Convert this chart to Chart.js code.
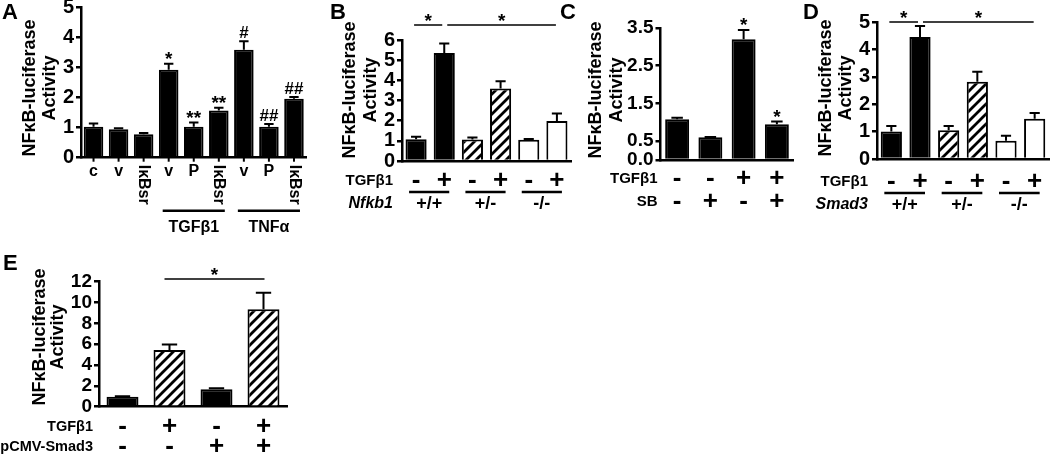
<!DOCTYPE html>
<html>
<head>
<meta charset="utf-8">
<script src="https://cdn.jsdelivr.net/npm/chart.js@4.4.1/dist/chart.umd.min.js"></script>
<style>
  body { margin: 0; background: #fff; width: 1050px; height: 454px; position: relative; overflow: hidden; }
  canvas { position: absolute; }
</style>
</head>
<body>
<canvas id="ca"></canvas>
<canvas id="cb"></canvas>
<canvas id="cc"></canvas>
<canvas id="cd"></canvas>
<canvas id="ce"></canvas>
<script>
// ---- data ----
const yTitle = ['NFκB-luciferase', 'Activity'];

const aLabels = ['c', 'v', 'IκBsr', 'v', 'P', 'IκBsr', 'v', 'P', 'IκBsr'];
const aMeans = [1.03, 0.95, 0.78, 2.93, 1.03, 1.57, 3.59, 1.03, 1.96];
const aSem = [0.11, 0.03, 0.04, 0.20, 0.14, 0.09, 0.29, 0.09, 0.06];
const aMarks = ['', '', '', '*', '**', '**', '#', '##', '##'];
const aGroups = ['TGFβ1', 'TNFα'];
const aTicks = [0, 1, 2, 3, 4, 5];

const bMeans = [1.08, 5.36, 1.07, 3.60, 1.05, 1.98];
const bSem = [0.12, 0.47, 0.10, 0.36, 0.04, 0.38];
const bTgf = ['-', '+', '-', '+', '-', '+'];
const bGeno = ['+/+', '+/-', '-/-'];
const bTicks = [0, 1, 2, 3, 4, 5, 6];

const cMeans = [1.08, 0.60, 3.20, 0.95];
const cSem = [0.04, 0.01, 0.25, 0.07];
const cMarks = ['', '', '*', '*'];
const cTgf = ['-', '-', '+', '+'];
const cSb = ['-', '+', '-', '+'];
const cTicks = [0, 0.5, 1.5, 2.5, 3.5];

const dMeans = [1.00, 4.45, 1.05, 2.82, 0.67, 1.47];
const dSem = [0.20, 0.40, 0.15, 0.36, 0.18, 0.21];
const dTgf = ['-', '+', '-', '+', '-', '+'];
const dGeno = ['+/+', '+/-', '-/-'];
const dTicks = [0, 1, 2, 3, 4, 5];

const eMeans = [0.96, 5.44, 1.67, 9.35];
const eSem = [0.04, 0.54, 0.10, 1.60];
const eTgf = ['-', '+', '-', '+'];
const eSmad = ['-', '-', '+', '+'];
const eTicks = [0, 2, 4, 6, 8, 10, 12];

// ---- drawing helpers ----
const FONT = '"Liberation Sans", Arial, sans-serif';

function txt(ctx, s, x, y, size, align = 'center', style = 'bold', base = 'middle', rot = 0) {
  ctx.save();
  ctx.font = style + ' ' + size + 'px ' + FONT;
  ctx.fillStyle = '#000';
  ctx.textAlign = align;
  ctx.textBaseline = base;
  ctx.translate(x, y);
  if (rot) ctx.rotate(rot);
  ctx.fillText(s, 0, 0);
  ctx.restore();
}

function seg(ctx, x1, y1, x2, y2, w) {
  ctx.save();
  ctx.strokeStyle = '#000';
  ctx.lineWidth = w;
  ctx.beginPath();
  ctx.moveTo(x1, y1);
  ctx.lineTo(x2, y2);
  ctx.stroke();
  ctx.restore();
}

function mark(ctx, s, x, yTop) {
  // stars sit high in the em box, hashes sit on the baseline
  if (s.includes('*')) txt(ctx, s, x, yTop + 1, 19, 'center', 'bold', 'alphabetic');
  else txt(ctx, s, x, yTop - 3, 17, 'center', 'bold', 'alphabetic');
}

function hatch(ctx) {
  const p = document.createElement('canvas');
  p.width = 10; p.height = 10;
  const g = p.getContext('2d');
  g.fillStyle = '#fff';
  g.fillRect(0, 0, 10, 10);
  g.strokeStyle = '#000';
  g.lineWidth = 2.8;
  g.beginPath();
  g.moveTo(-2, 12); g.lineTo(12, -2);
  g.moveTo(-2, 2); g.lineTo(2, -2);
  g.moveTo(8, 12); g.lineTo(12, 8);
  g.stroke();
  return ctx.createPattern(p, 'repeat');
}

function errorBars(sem) {
  return {
    id: 'err',
    afterDatasetsDraw(chart) {
      const ctx = chart.ctx, y = chart.scales.y;
      const means = chart.data.datasets[0].data;
      ctx.save();
      ctx.strokeStyle = '#000';
      ctx.lineWidth = 2;
      chart.getDatasetMeta(0).data.forEach((bar, i) => {
        const top = y.getPixelForValue(means[i] + sem[i]);
        const half = bar.width * 0.24;
        ctx.beginPath();
        ctx.moveTo(bar.x, bar.y); ctx.lineTo(bar.x, top);
        ctx.moveTo(bar.x - half, top); ctx.lineTo(bar.x + half, top);
        ctx.stroke();
      });
      ctx.restore();
    }
  };
}

// box = canvas [left, top, width, height]; area = chart area [left, top, right, bottom] on the page
function panel(o) {
  const cv = document.getElementById(o.id);
  const [L, T, W, H] = o.box;
  cv.width = W; cv.height = H;
  cv.style.left = L + 'px'; cv.style.top = T + 'px';
  const pat = hatch(cv.getContext('2d'));
  const colors = o.fills.map(f => f === 'solid' ? '#000' : f === 'hatch' ? pat : '#fff');
  const sem = o.sem;
  return new Chart(cv, {
    type: 'bar',
    data: {
      labels: o.labels,
      datasets: [{
        data: o.means, backgroundColor: colors, borderColor: '#000', borderWidth: 2,
        barPercentage: o.bar, categoryPercentage: 1
      }]
    },
    options: {
      responsive: false, animation: false, devicePixelRatio: 1,
      layout: { padding: { left: 0, top: o.area[1] - T, right: L + W - o.area[2], bottom: T + H - o.area[3] } },
      plugins: { legend: { display: false }, tooltip: { enabled: false } },
      scales: {
        x: {
          ticks: { display: false },
          grid: { display: false },
          border: { display: true, color: '#000', width: 2.5 },
          afterFit: s => { s.height = 0; s.paddingLeft = 0; s.paddingRight = 0; }
        },
        y: {
          min: 0, max: o.max,
          afterBuildTicks: s => { s.ticks = o.ticks.map(v => ({ value: v })); },
          ticks: {
            color: '#000', padding: 2, autoSkip: false,
            font: { family: FONT, size: o.tickSize || 20, weight: 'bold' },
            callback: o.fmt || (v => v)
          },
          grid: { display: true, drawOnChartArea: false, drawTicks: true, tickLength: 5, color: '#000', lineWidth: 2.5 },
          border: { display: true, color: '#000', width: 2.5 },
          afterFit: s => { s.width = o.area[0] - L; s.paddingTop = 0; s.paddingBottom = 0; }
        }
      }
    },
    plugins: [errorBars(sem), {
      id: 'deco',
      afterDraw(chart) {
        const ctx = chart.ctx;
        const g = {
          bx: i => chart.scales.x.getPixelForValue(i),
          by: v => chart.scales.y.getPixelForValue(v),
          X: px => px - L, Y: py => py - T,
          area: chart.chartArea
        };
        txt(ctx, o.letter, g.X(o.letterAt[0]), g.Y(o.letterAt[1]), 22, 'left', 'bold', 'top');
        yTitle.forEach((s, k) => txt(ctx, s, g.X(o.titleX[k]), g.Y(o.titleY), 18, 'center', 'bold', 'middle', -Math.PI / 2));
        o.deco(ctx, g);
      }
    }]
  });
}

// signs row under the bars
function signs(ctx, g, arr, y) {
  arr.forEach((s, i) => txt(ctx, s, g.bx(i), y, 26));
}

// pairs of bars joined by a line with a genotype label
function genotypes(ctx, g, arr, yLine, yLab) {
  arr.forEach((s, k) => {
    const x1 = g.bx(2 * k) - 7, x2 = g.bx(2 * k + 1) + 5;
    seg(ctx, x1, yLine, x2, yLine, 2.5);
    txt(ctx, s, (x1 + x2) / 2, yLab, 18);
  });
}

function sigPair(ctx, g, y) {
  const x1 = g.bx(0) - 2, x2 = g.bx(1) - 2;
  seg(ctx, x1, y, x2, y, 1.5);
  txt(ctx, '*', (x1 + x2) / 2, y + 2, 19, 'center', 'bold', 'alphabetic');
  const x3 = g.bx(1) + 3, x4 = g.bx(5) - 1;
  seg(ctx, x3, y, x4, y, 1.5);
  txt(ctx, '*', (x3 + x4) / 2, y + 2, 19, 'center', 'bold', 'alphabetic');
}

// ---- panel A ----
panel({
  id: 'ca', box: [0, 0, 320, 240], area: [81, 7.5, 306.5, 157.7],
  labels: aLabels, means: aMeans, sem: aSem, ticks: aTicks, max: 5, bar: 0.78,
  fills: aMeans.map(() => 'solid'),
  letter: 'A', letterAt: [2, 2], titleX: [30, 50], titleY: 88,
  deco(ctx, g) {
    const b = g.area.bottom;
    aLabels.forEach((s, i) => {
      const x = g.bx(i);
      seg(ctx, x, b, x, b + 4, 2);
      if (s.length > 1) txt(ctx, s, x, b + 7, 16, 'left', 'bold', 'middle', Math.PI / 2);
      else txt(ctx, s, x, b + 14, 16);
      if (aMarks[i]) mark(ctx, aMarks[i], x, g.by(aMeans[i] + aSem[i]));
    });
    aGroups.forEach((s, k) => {
      const x1 = g.bx(3 + 3 * k) - 6, x2 = g.bx(5 + 3 * k) + 6;
      seg(ctx, x1, b + 53, x2, b + 53, 2.5);
      txt(ctx, s, (x1 + x2) / 2, b + 70, 16);
    });
  }
});

// ---- panel B ----
panel({
  id: 'cb', box: [326, 0, 250, 240], area: [402, 40, 571, 161],
  labels: bTgf, means: bMeans, sem: bSem, ticks: bTicks, max: 6, bar: 0.75,
  fills: ['solid', 'solid', 'hatch', 'hatch', 'open', 'open'],
  letter: 'B', letterAt: [330, 2], titleX: [350, 371], titleY: 90,
  deco(ctx, g) {
    const b = g.area.bottom, l = g.area.left;
    sigPair(ctx, g, 25);
    txt(ctx, 'TGFβ1', l - 9, b + 20, 15, 'right');
    signs(ctx, g, bTgf, b + 20);
    genotypes(ctx, g, bGeno, b + 31, b + 43);
    txt(ctx, 'Nfkb1', l - 9, b + 43, 16, 'right', 'italic bold');
  }
});

// ---- panel C ----
panel({
  id: 'cc', box: [555, 0, 245, 240], area: [660.5, 28, 793.5, 160],
  labels: cTgf, means: cMeans, sem: cSem, ticks: cTicks, max: 3.5, bar: 0.72,
  fills: cMeans.map(() => 'solid'), fmt: v => v.toFixed(1), tickSize: 19,
  letter: 'C', letterAt: [560, 2], titleX: [596, 617], titleY: 90,
  deco(ctx, g) {
    const b = g.area.bottom, l = g.area.left;
    cMarks.forEach((s, i) => { if (s) mark(ctx, s, g.bx(i), g.by(cMeans[i] + cSem[i])); });
    txt(ctx, 'TGFβ1', l - 3, b + 19, 15, 'right');
    signs(ctx, g, cTgf, b + 19);
    txt(ctx, 'SB', l - 3, b + 42, 15, 'right');
    signs(ctx, g, cSb, b + 42);
  }
});

// ---- panel D ----
panel({
  id: 'cd', box: [800, 0, 250, 240], area: [877, 22, 1049, 159],
  labels: dTgf, means: dMeans, sem: dSem, ticks: dTicks, max: 5, bar: 0.74,
  fills: ['solid', 'solid', 'hatch', 'hatch', 'open', 'open'],
  letter: 'D', letterAt: [803, 2], titleX: [826, 846], titleY: 88,
  deco(ctx, g) {
    const b = g.area.bottom, l = g.area.left;
    sigPair(ctx, g, 22);
    txt(ctx, 'TGFβ1', l - 9, b + 23, 15, 'right');
    signs(ctx, g, dTgf, b + 23);
    genotypes(ctx, g, dGeno, b + 34, b + 46);
    txt(ctx, 'Smad3', l - 9, b + 46, 16, 'right', 'italic bold');
  }
});

// ---- panel E ----
panel({
  id: 'ce', box: [0, 245, 320, 209], area: [99, 281.7, 287, 406.7],
  labels: eTgf, means: eMeans, sem: eSem, ticks: eTicks, max: 12, bar: 0.68,
  fills: ['solid', 'hatch', 'solid', 'hatch'], tickSize: 19,
  letter: 'E', letterAt: [3, 253], titleX: [40, 58], titleY: 337,
  deco(ctx, g) {
    const b = g.area.bottom, l = g.area.left;
    const x1 = g.bx(1) - 5, x2 = g.bx(3) + 1, y = g.Y(279);
    seg(ctx, x1, y, x2, y, 1.5);
    txt(ctx, '*', (x1 + x2) / 2, y + 2, 19, 'center', 'bold', 'alphabetic');
    txt(ctx, 'TGFβ1', l - 6, b + 20, 14.5, 'right');
    signs(ctx, g, eTgf, b + 20);
    txt(ctx, 'pCMV-Smad3', l - 6, b + 40, 14.5, 'right');
    signs(ctx, g, eSmad, b + 40);
  }
});
</script>
</body>
</html>
